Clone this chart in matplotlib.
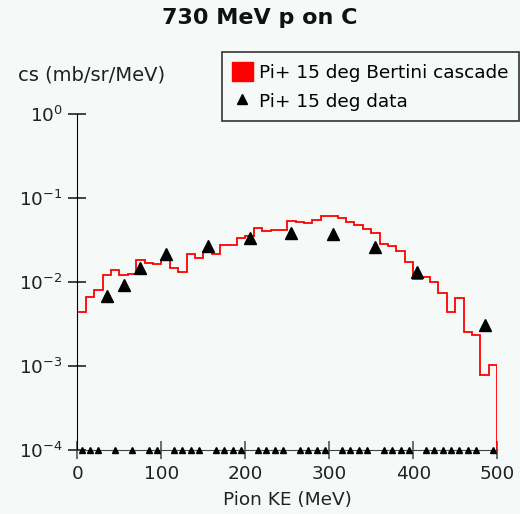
import numpy as np
import matplotlib
matplotlib.use("Agg")
import matplotlib.pyplot as plt
from matplotlib.patches import Patch
from matplotlib.lines import Line2D
from matplotlib.ticker import NullLocator, FixedLocator

# ──────────────────────────────────────────────
# DATA
# ──────────────────────────────────────────────
bin_edges = np.arange(0, 501, 10)   # 10 MeV bins, 0-500 MeV
bertini = [
    4.40e-3, 6.63e-3, 8.03e-3, 1.21e-2, 1.39e-2, 1.21e-2, 1.25e-2, 1.83e-2, 1.68e-2, 1.64e-2,
    1.83e-2, 1.47e-2, 1.32e-2, 2.15e-2, 1.93e-2, 2.28e-2, 2.15e-2, 2.76e-2, 2.76e-2, 3.34e-2,
    3.53e-2, 4.39e-2, 4.05e-2, 4.16e-2, 4.16e-2, 5.32e-2, 5.18e-2, 5.04e-2, 5.47e-2, 6.10e-2,
    6.10e-2, 5.78e-2, 5.18e-2, 4.77e-2, 4.28e-2, 3.83e-2, 2.83e-2, 2.68e-2, 2.34e-2, 1.73e-2,
    1.09e-2, 1.15e-2, 1.00e-2, 7.40e-3, 4.40e-3, 6.45e-3, 2.54e-3, 2.34e-3, 7.81e-4, 1.03e-3,
]

data_ke = [35, 55, 75, 105, 155, 205, 255, 305, 355, 405, 485]
data_cs = [6.8e-3, 9.2e-3, 1.48e-2, 2.14e-2, 2.7e-2, 3.3e-2, 3.8e-2, 3.7e-2, 2.6e-2, 1.33e-2, 3.1e-3]

# empty data bins, drawn on the floor of the plot
zero_ke = [5, 15, 25, 45, 65, 85, 95, 115, 125, 135, 145, 165, 175, 185, 195,
           215, 225, 235, 245, 265, 275, 285, 295, 315, 325, 335, 345,
           365, 375, 385, 395, 415, 425, 435, 445, 455, 465, 475, 495]

y_ticks = [1e-4, 1e-3, 1e-2, 1e-1, 1e0]
y_labels = ["$10^{-4}$", "$10^{-3}$", "$10^{-2}$", "$10^{-1}$", "$10^{0}$"]
x_ticks = [0, 100, 200, 300, 400, 500]

BG = "#f5f9f7"
YMIN, YMAX = 1e-4, 1e0

# ──────────────────────────────────────────────
# PLOT
# ──────────────────────────────────────────────
plt.rcParams["font.family"] = "DejaVu Sans"
plt.rcParams["mathtext.fontset"] = "dejavusans"
plt.rcParams["mathtext.default"] = "regular"

fig = plt.figure(figsize=(5.2, 5.14), dpi=100, facecolor=BG)
ax = fig.add_axes([0.1487, 0.1245, 0.8076, 0.6537], facecolor=BG)

ax.stairs(bertini, bin_edges, baseline=YMIN, color="red", lw=1.3, zorder=2)
ax.plot(data_ke, data_cs, "^", color="black", ms=9, zorder=3)
ax.plot(zero_ke, [YMIN] * len(zero_ke), "^", color="black", ms=4.5,
        clip_on=False, zorder=4)

ax.set_yscale("log")
ax.set_ylim(YMIN, YMAX)
ax.set_xlim(0, 500)
ax.yaxis.set_major_locator(FixedLocator(y_ticks))
ax.set_yticklabels(y_labels, fontsize=14)
ax.yaxis.set_minor_locator(NullLocator())
ax.set_xticks(x_ticks)

for s in ["top", "right"]:
    ax.spines[s].set_visible(False)
ax.spines["left"].set_color("black")
ax.spines["bottom"].set_color("#444444")
ax.tick_params(axis="both", direction="inout", length=13, width=1.2,
               labelsize=13.3, pad=4, colors="#222222")
ax.tick_params(axis="x", colors="#555555", labelcolor="#222222")

ax.set_xlabel("Pion KE (MeV)", fontsize=13.3, labelpad=6, color="#222222")
fig.text(0.5, 0.965, "730 MeV p on C", ha="center", va="center",
         fontsize=16, fontweight="bold", color="#111111")
fig.text(0.035, 0.855, "cs (mb/sr/MeV)", ha="left", va="center",
         fontsize=14, color="#222222")

handles = [Patch(facecolor="red", edgecolor="red"),
           Line2D([], [], marker="^", color="black", ls="none", ms=7)]
leg = fig.legend(handles, ["Pi+ 15 deg Bertini cascade", "Pi+ 15 deg data"],
                 loc="upper left", bbox_to_anchor=(0.427, 0.899),
                 fontsize=13.3, fancybox=False, framealpha=1,
                 facecolor=BG, edgecolor="#333333", handlelength=1.1,
                 handleheight=1.2, handletextpad=0.35, borderpad=0.55,
                 labelspacing=0.5, borderaxespad=0)
leg.get_frame().set_linewidth(1.2)

fig.savefig("out.png", dpi=100, facecolor=BG)
